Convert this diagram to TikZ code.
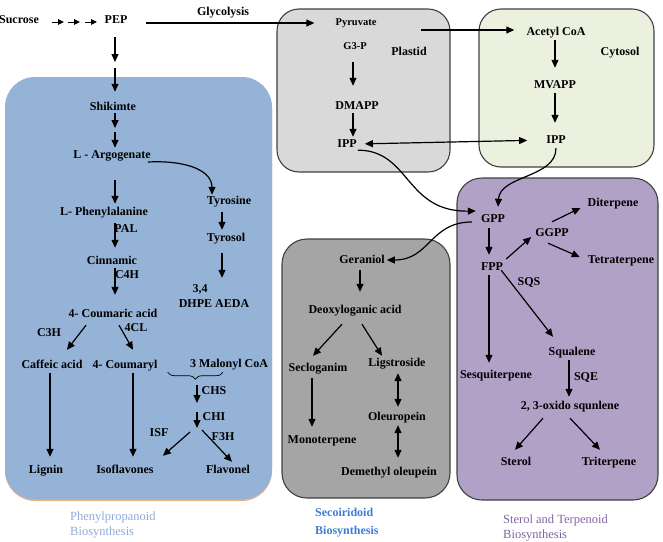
\documentclass[tikz,border=0pt]{standalone}
\usepackage{fontspec}
\setmainfont{Liberation Serif}
\usetikzlibrary{positioning,arrows.meta,decorations.pathreplacing}
\definecolor{phenfill}{HTML}{95B3D7}
\definecolor{phenedge}{HTML}{E9B48C}
\definecolor{plastfill}{HTML}{D9D9D9}
\definecolor{cytofill}{HTML}{EBF1DE}
\definecolor{secofill}{HTML}{A5A5A5}
\definecolor{terpfill}{HTML}{B2A1C7}
\definecolor{boxedge}{HTML}{404040}
\definecolor{phencap}{HTML}{8EAADB}
\definecolor{secocap}{HTML}{3D7CD6}
\definecolor{terpcap}{HTML}{8064A2}

\begin{document}
\begin{tikzpicture}
[x=1pt, y=-1pt,
 every node/.style={font=\bfseries\fontsize{12}{14}\selectfont, inner sep=1pt, text height=8pt, text depth=2pt},
 small/.style={font=\bfseries\fontsize{10.5}{12}\selectfont},
 caption/.style={anchor=west, align=left, text height=, text depth=},
 box/.style={draw=boxedge, line width=1.1pt, rounded corners=22pt},
 arr/.style={-{Triangle[length=8pt,width=7pt]}, line width=1.2pt},
 darr/.style={{Triangle[length=8pt,width=7pt]}-{Triangle[length=8pt,width=7pt]}, line width=1.2pt},
 sarr/.style={-{Triangle[length=6pt,width=5.5pt]}, line width=0.9pt}]
\useasboundingbox (0,0) rectangle (663,541);

\fill[phenedge, rounded corners=30pt] (5,79) rectangle (272,501);
\fill[phenfill, rounded corners=30pt] (5,77) rectangle (272,499.5);
\draw[box, fill=plastfill] (277,9) rectangle (450,172);
\draw[box, fill=cytofill] (479,9) rectangle (654,167);
\draw[box, fill=secofill, rounded corners=25pt] (282,239) rectangle (450,498);
\draw[box, fill=terpfill, rounded corners=25pt] (457,178) rectangle (658,500);

\node (suc) at (19,20) {Sucrose};
\node (pep) at (116,20) {PEP};
\node (glyc) at (223,12) {Glycolysis};
\node[small] (pyr) at (356,22) {Pyruvate};
\node[small] (g3p) at (355,46) {G3-P};
\node (plast) at (409,52) {Plastid};
\node (dmapp) at (357,106) {DMAPP};
\node (ippP) at (347,144) {IPP};
\node (acoa) at (556,32) {Acetyl CoA};
\node (cyto) at (620,52) {Cytosol};
\node (mvapp) at (555,85) {MVAPP};
\node (ippC) at (556,140) {IPP};

\node (shik) at (113,107) {Shikimte};
\node (arg) at (112,155) {L - Argogenate};
\node (phe) at (104,212) {L- Phenylalanine};
\node (pal) at (126,229) {PAL};
\node (cin) at (112,261) {Cinnamic};
\node (c4h) at (127,275) {C4H};
\node (coum) at (113,314) {4- Coumaric acid};
\node (c3h) at (49,333) {C3H};
\node (fcl) at (136,328) {4CL};
\node (caf) at (52,365) {Caffeic acid};
\node (cml) at (125,365) {4- Coumaryl};
\node (mal) at (229,364) {3 Malonyl CoA};
\node (chs) at (214,391) {CHS};
\node (chi) at (214,417) {CHI};
\node (isf) at (159,433) {ISF};
\node (fth) at (223,437) {F3H};
\node (lig) at (46,470) {Lignin};
\node (iso) at (125,470) {Isoflavones};
\node (flv) at (228,470) {Flavonel};
\node (tyr) at (229,201) {Tyrosine};
\node (tol) at (226,238) {Tyrosol};
\node (th) at (200,289) {3,4};
\node (dhpe) at (214,304) {DHPE AEDA};

\node (ger) at (362,260) {Geraniol};
\node (deo) at (355,310) {Deoxyloganic acid};
\node (sec) at (318,368) {Secloganim};
\node (lgs) at (397,363) {Ligstroside};
\node (mono) at (322,440) {Monoterpene};
\node (ole) at (397,417) {Oleuropein};
\node (dem) at (389,472) {Demethyl oleupein};

\node (gpp) at (493,219) {GPP};
\node (ggpp) at (552,233) {GGPP};
\node (dit) at (613,203) {Diterpene};
\node (tet) at (621,260) {Tetraterpene};
\node (fpp) at (492,267) {FPP};
\node (sqs) at (529,282) {SQS};
\node (sqa) at (572,352) {Squalene};
\node (sesq) at (496,375) {Sesquiterpene};
\node (sqe) at (586,377) {SQE};
\node (oxs) at (570,406) {2, 3-oxido squnlene};
\node (ste) at (516,462) {Sterol};
\node (tri) at (609,462) {Triterpene};

\node[caption, text=phencap, font=\fontsize{12.5}{15}\selectfont] (capP) at (69,525) {Phenylpropanoid\\Biosynthesis};
\node[caption, text=secocap, font=\bfseries\fontsize{12}{18}\selectfont] (capS) at (314,523) {Secoiridoid\\Biosynthesis};
\node[caption, text=terpcap, font=\fontsize{12.5}{15}\selectfont] (capT) at (502,528) {Sterol and Terpenoid\\Biosynthesis};

\coordinate (cA) at (115,0);
\coordinate (cT) at (222,0);
\coordinate (cP) at (353,0);
\coordinate (cC) at (555,0);
\coordinate (cL) at (50,0);
\coordinate (cI) at (133,0);
\coordinate (cG) at (360,0);
\coordinate (cS) at (312,0);
\coordinate (cO) at (398,0);
\coordinate (cN) at (489,0);
\coordinate (cQ) at (569,0);
\coordinate (pm1) at (115,62);
\coordinate (pm2) at (115,68);
\coordinate (sm1) at (115,128);
\coordinate (sm2) at (115,132);
\coordinate (br) at (197,385);
\coordinate (ch1) at (197,403);
\coordinate (ch2) at (197,412);
\coordinate (fk) at (197,428);

\foreach \i/\a in {1/52,2/68,3/85}{
  \coordinate (su\i) at (\a,22);
  \coordinate (sv\i) at (\a+12,22);
  \draw[sarr] (su\i) -- (sv\i);
}

\draw[arr] ([xshift=17pt,yshift=-3pt]pep.east) -- ([xshift=-20pt,yshift=-1pt]pyr.west);
\draw[arr] ([xshift=43.5pt,yshift=-8pt]pyr.east) -- ([xshift=-11pt,yshift=2pt]acoa.west);
\draw[arr, shorten <=10pt, shorten >=14pt] (cP |- g3p.south) -- (cP |- dmapp.north);
\draw[arr, shorten <=1pt, shorten >=1pt] (cP |- dmapp.south) -- (cP |- ippP.north);
\draw[darr, shorten <=7pt, shorten >=18pt] (ippP.east) -- (ippC.west);
\draw[arr, shorten <=2pt, shorten >=11pt] (cC |- acoa.south) -- (cC |- mvapp.north);
\draw[arr, shorten <=2pt, shorten >=11pt] (cC |- mvapp.south) -- (cC |- ippC.north);

\draw[arr, shorten <=11pt] (cA |- pep.south) -- (pm1);
\draw[arr, shorten >=9pt] (pm2) -- (cA |- shik.north);
\draw[arr] (cA |- shik.south) -- (sm1);
\draw[arr, shorten >=1pt] (sm2) -- (cA |- arg.north);
\draw[arr, shorten <=19pt, shorten >=2pt] (cA |- arg.south) -- (cA |- phe.north);
\draw[arr, shorten <=5pt, shorten >=7pt] (cA |- phe.south) -- (cA |- cin.north);
\draw[arr, shorten <=1pt, shorten >=13pt] (cA |- cin.south) -- (cA |- coum.north);
\draw[arr] ([xshift=-4pt,yshift=-7pt]arg.east) .. controls (190,160) and (212,172) .. ([xshift=-17pt]tyr.north);
\draw[arr, shorten <=5pt, shorten >=2pt] (cT |- tyr.south) -- (cT |- tol.north);
\draw[arr, shorten <=9pt, shorten >=5pt] (cT |- tol.south) -- (cT |- th.north);
\draw[arr] ([xshift=-27pt,yshift=-5pt]coum.south) -- ([xshift=15pt,yshift=9pt]caf.north);
\draw[arr] ([xshift=6pt,yshift=-5pt]coum.south) -- ([xshift=8pt,yshift=9pt]cml.north);
\draw[arr, shorten <=2pt, shorten >=7pt] (cL |- caf.south) -- (cL |- lig.north);
\draw[arr, shorten <=2pt, shorten >=7pt] (cI |- cml.south) -- (cI |- iso.north);
\draw[decorate, decoration={brace, mirror, amplitude=7pt}, line width=0.7pt] ([xshift=9pt,yshift=-1pt]cml.south east) -- ([xshift=-6pt,yshift=-2pt]mal.south);
\draw[arr] (br) -- (ch1);
\draw[arr] (ch2) -- (fk);
\draw[arr] ([xshift=-7pt,yshift=-4pt]fk) -- ([xshift=8pt,yshift=8pt]iso.north east);
\draw[arr] ([xshift=5pt,yshift=-2pt]fk) -- ([xshift=4pt,yshift=2pt]flv.north);

\draw[arr] (ippP.south east) .. controls (410,150) and (405,212) .. ([xshift=-4pt,yshift=8pt]gpp.west);
\draw[arr] ([yshift=-2pt]ippC.south) .. controls (556,178) and (500,175) .. ([xshift=5pt,yshift=6pt]gpp.north);
\draw[arr, shorten >=1pt] ([xshift=-8pt,yshift=-3pt]gpp.west) .. controls (430,222) and (430,260) .. (ger.east);

\draw[arr, shorten <=4pt, shorten >=12pt] (cG |- ger.south) -- (cG |- deo.north);
\draw[arr] ([xshift=-13pt,yshift=-8pt]deo.south) -- ([xshift=-5pt,yshift=6pt]sec.north);
\draw[arr] ([xshift=7pt,yshift=-8pt]deo.south) -- ([xshift=-15pt,yshift=1pt]lgs.north);
\draw[arr, shorten <=4pt, shorten >=7pt] (cS |- sec.south) -- (cS |- mono.north);
\draw[darr, shorten <=4pt, shorten >=4pt] (cO |- lgs.south) -- (cO |- ole.north);
\draw[darr, shorten <=2pt, shorten >=8pt] (cO |- ole.south) -- (cO |- dem.north);

\draw[arr, shorten <=3pt, shorten >=6pt] (cN |- gpp.south) -- (cN |- fpp.north);
\draw[arr] ([xshift=2pt,yshift=8pt]fpp.east) -- ([xshift=-3pt,yshift=-4pt]ggpp.west);
\draw[arr] ([yshift=5pt]ggpp.north) -- ([xshift=-6pt,yshift=-5pt]dit.west);
\draw[arr] ([xshift=-4pt,yshift=-4pt]ggpp.south) -- ([xshift=-7pt,yshift=3pt]tet.west);
\draw[arr] ([xshift=-3pt,yshift=3pt]fpp.south east) -- ([xshift=-19pt,yshift=9pt]sqa.north);
\draw[arr, shorten <=2pt, shorten >=6pt] (cN |- fpp.south) -- (cN |- sesq.north);
\draw[arr, shorten <=2pt, shorten >=3pt] (cQ |- sqa.south) -- (cQ |- oxs.north);
\draw[arr] ([xshift=-27pt,yshift=-6pt]oxs.south) -- ([xshift=-1pt,yshift=6pt]ste.north);
\draw[arr] ([yshift=-6pt]oxs.south) -- ([xshift=-9pt,yshift=6pt]tri.north);
\end{tikzpicture}
\end{document}
